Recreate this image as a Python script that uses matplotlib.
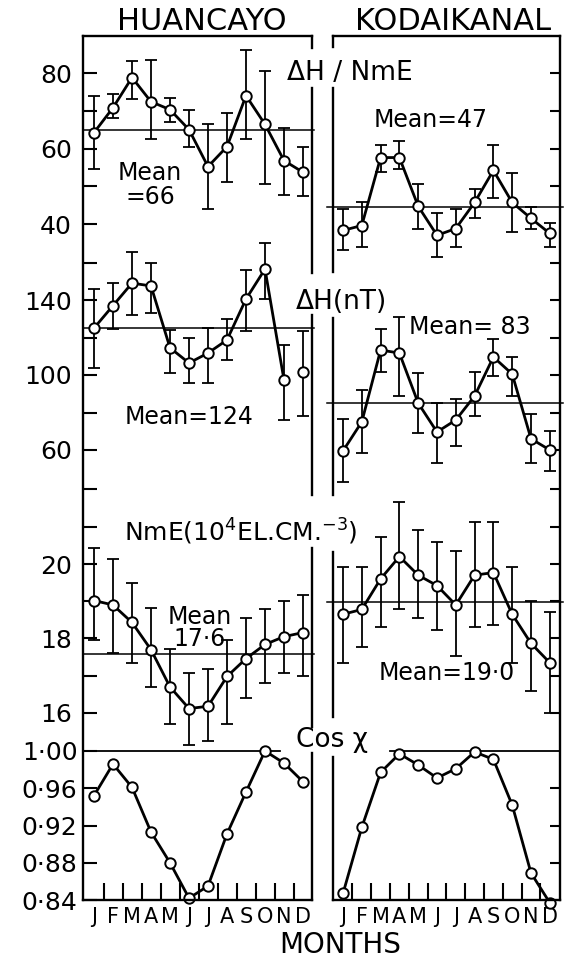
import numpy as np
import matplotlib
matplotlib.use('Agg')
import matplotlib.pyplot as plt
from matplotlib.lines import Line2D

# Месяцы
months = ['J', 'F', 'M', 'A', 'M', 'J', 'J', 'A', 'S', 'O', 'N', 'D']

# ΔH/NmE
huan_ratio = [64.2, 70.8, 78.8, 72.4, 70.3, 65.0, 55.2, 60.5, 74.0, 66.4, 56.8, 53.7]
huan_ratio_hi = [74.0, 74.5, 83.3, 83.5, 73.5, 70.3, 66.6, 69.5, 86.0, 80.6, 65.3, 60.3]
huan_ratio_lo = [54.7, 68.0, 73.0, 62.4, 67.0, 60.3, 43.9, 51.0, 62.6, 50.7, 47.8, 47.5]
kod_ratio = [38.3, 39.6, 57.6, 57.6, 44.7, 37.0, 38.8, 45.7, 54.2, 45.7, 41.5, 37.5]
kod_ratio_hi = [44.1, 45.7, 60.8, 62.0, 50.7, 42.8, 43.9, 49.4, 60.8, 53.4, 44.4, 40.2]
kod_ratio_lo = [33.0, 33.8, 53.9, 54.7, 38.8, 31.2, 33.8, 41.7, 47.0, 37.8, 38.8, 34.0]

# ΔH (nT)
huan_dh = [125, 137, 149, 147.5, 114.5, 106.4, 111.7, 118.7, 140.5, 156.5, 97.3, 101.4]
huan_dh_hi = [146, 149, 165.6, 160, 124, 120, 125, 130, 156, 170.4, 116, 123.5]
huan_dh_lo = [104, 124.5, 132, 133, 101, 96, 96, 108, 123.5, 140.5, 76, 78]
kod_dh = [59.5, 75, 113.3, 111.7, 85, 69.6, 76, 88.8, 109.6, 100.5, 66, 60]
kod_dh_hi = [76.5, 92, 124.5, 131, 101, 85, 87, 101.6, 119, 109.6, 79, 70]
kod_dh_lo = [43, 58.4, 101.6, 89, 69, 53, 62, 78, 99.5, 89, 53, 49]

# NmE (10^4 el/cm^3)
huan_nme = [19.02, 18.9, 18.43, 17.7, 16.7, 16.12, 16.18, 16.98, 17.46, 17.84, 18.05, 18.16]
huan_nme_hi = [20.44, 20.14, 19.5, 18.83, 17.73, 17.08, 17.17, 17.97, 18.56, 18.78, 19.0, 19.16]
huan_nme_lo = [17.97, 17.62, 17.35, 16.7, 15.7, 15.14, 15.25, 15.7, 16.4, 16.8, 17.08, 16.98]
kod_nme = [18.65, 18.78, 19.6, 20.2, 19.7, 19.42, 18.9, 19.7, 19.77, 18.65, 17.87, 17.35]
kod_nme_hi = [19.93, 19.93, 20.73, 21.67, 20.9, 20.6, 20.35, 21.14, 21.14, 19.92, 19.0, 18.72]
kod_nme_lo = [17.35, 17.78, 18.3, 18.8, 18.56, 18.24, 17.54, 18.3, 18.35, 17.35, 16.6, 16.0]

# Cos χ
huan_cos = [0.952, 0.986, 0.961, 0.913, 0.880, 0.842, 0.855, 0.911, 0.956, 1.000, 0.987, 0.967]
kod_cos = [0.847, 0.918, 0.977, 0.997, 0.985, 0.971, 0.981, 0.999, 0.991, 0.942, 0.869, 0.837]

# Средние (положение линий)
huan_means = [65.0, 125.1, 17.58]
kod_means = [44.6, 85.1, 18.98]

W, H = 569, 960
fig = plt.figure(figsize=(W / 100, H / 100), dpi=100)
fig.patch.set_facecolor('white')

x = np.arange(12)


def fx(px):
    return px / W


def fy(py):
    return 1 - py / H


def make_ax(x0, x1, ytop, ybot, ref, xlim):
    (va, ya), (vb, yb) = ref
    k = (va - vb) / (yb - ya)
    ax = fig.add_axes([fx(x0), fy(ybot), fx(x1 - x0), (ybot - ytop) / H])
    ax.set_ylim(va + (ya - ybot) * k, va + (ya - ytop) * k)
    ax.set_xlim(*xlim)
    ax.patch.set_visible(False)
    for s in ax.spines.values():
        s.set_visible(False)
    ax.tick_params(axis='x', which='both', bottom=False, labelbottom=False)
    return ax


def style_left(ax, major, labels, minor, pad=8):
    ax.yaxis.tick_left()
    ax.set_yticks(major, labels=labels)
    ax.set_yticks(minor, minor=True)
    ax.tick_params(axis='y', which='both', direction='in', length=10, width=1.5,
                   labelsize=18, pad=pad)


def style_right(ax, ticks):
    ax.yaxis.tick_right()
    ax.set_yticks(ticks)
    ax.tick_params(axis='y', which='both', direction='in', length=7, width=1.5,
                   labelright=False)


def draw_series(ax, y, lo, hi, connect=12):
    y = np.array(y)
    err = [y - np.array(lo), np.array(hi) - y]
    ax.errorbar(x, y, yerr=err, fmt='none', ecolor='black', elinewidth=1.3,
                capsize=4, capthick=1.3, clip_on=False)
    ax.plot(x[:connect], y[:connect], '-', color='black', lw=2.0, clip_on=False, zorder=3)
    ax.plot(x, y, 'o', ms=7.5, mfc='white', mec='black', mew=1.4, clip_on=False, zorder=4)


LX = (83, 312)
RX = (333, 560)
lxlim = ((83 - 94) / 19, (312 - 94) / 19)
rxlim = ((333 - 343) / 18.8, (560 - 343) / 18.8)

spans = [(36, 250), (250, 490), (488, 745), (735, 900)]
refs = [((80, 73), (40, 224)),
        ((140, 300), (60, 450)),
        ((20, 564), (16, 713)),
        ((1.00, 751), (0.84, 900))]

left_data = [(huan_ratio, huan_ratio_lo, huan_ratio_hi),
             (huan_dh, huan_dh_lo, huan_dh_hi),
             (huan_nme, huan_nme_lo, huan_nme_hi)]
right_data = [(kod_ratio, kod_ratio_lo, kod_ratio_hi),
              (kod_dh, kod_dh_lo, kod_dh_hi),
              (kod_nme, kod_nme_lo, kod_nme_hi)]

left_ticks = [([40, 60, 80], [50, 70]),
              ([60, 100, 140], [80, 120, 160]),
              ([16, 18, 20], [17, 19, 21, 22])]
right_ticks = [[50, 60, 70, 80], [60, 80, 100, 120, 140, 160], [16, 17, 18, 19, 20, 21, 22]]

for i in range(3):
    axl = make_ax(*LX, *spans[i], refs[i], lxlim)
    style_left(axl, left_ticks[i][0], [str(v) for v in left_ticks[i][0]], left_ticks[i][1])
    axl.axhline(huan_means[i], xmin=0, xmax=1.01, color='black', lw=1.1, clip_on=False)
    draw_series(axl, *left_data[i], connect=11 if i == 1 else 12)

    axr = make_ax(*RX, *spans[i], refs[i], rxlim)
    style_right(axr, right_ticks[i])
    axr.axhline(kod_means[i], xmin=-0.026, xmax=1.013, color='black', lw=1.1, clip_on=False)
    draw_series(axr, *right_data[i])

# Cos χ
cos_major = [0.84, 0.88, 0.92, 0.96, 1.00]
for side in ('L', 'R'):
    if side == 'L':
        ax = make_ax(*LX, *spans[3], refs[3], lxlim)
        style_left(ax, cos_major, [f'{v:.2f}'.replace('.', '·') for v in cos_major], [], pad=4)
        ax.axhline(1.0, xmin=0, xmax=0.86, color='black', lw=1.3)
        yv = huan_cos
    else:
        ax = make_ax(*RX, *spans[3], refs[3], rxlim)
        style_right(ax, [0.88, 0.92, 0.96])
        ax.axhline(1.0, xmin=0.25, xmax=1, color='black', lw=1.3)
        yv = kod_cos
    ax.plot(x, yv, '-', color='black', lw=2.0, clip_on=False, zorder=3)
    ax.plot(x, yv, 'o', ms=7.5, mfc='white', mec='black', mew=1.4, clip_on=False, zorder=4)
    ax.tick_params(axis='x', which='both', bottom=True, labelbottom=True)
    ax.set_xticks(x, labels=months)
    ax.set_xticks(np.arange(0.5, 11, 1), minor=True)
    ax.tick_params(axis='x', which='major', length=0, pad=5, labelsize=15)
    ax.tick_params(axis='x', which='minor', direction='in', length=12, width=1.5)


# Рамки
def seg(x0, y0, x1, y1, lw=1.7):
    fig.add_artist(Line2D([fx(x0), fx(x1)], [fy(y0), fy(y1)], color='black', lw=lw,
                          transform=fig.transFigure, solid_capstyle='projecting'))


seg(83, 36, 312, 36)
seg(83, 36, 83, 900)
seg(83, 900, 312, 900)
for a, b in [(36, 48), (88, 273), (315, 495), (548, 727), (753, 900)]:
    seg(312, a, 312, b)

seg(333, 36, 560, 36)
seg(560, 36, 560, 900)
seg(333, 900, 560, 900)
for a, b in [(36, 47), (88, 272), (318, 495), (552, 717), (757, 900)]:
    seg(333, a, 333, b)


# Подписи
def label(px, py, s, size, **kw):
    fig.text(fx(px), fy(py), s, ha='center', va='center', fontsize=size, **kw)


label(202, 21, 'HUANCAYO', 22)
label(453, 21, 'KODAIKANAL', 22)
label(350, 73, 'ΔH / NmE', 19)
label(431, 120, 'Mean=47', 17)
label(150, 185, 'Mean\n=66', 17, linespacing=1.0)
label(341, 302, 'ΔH(nT)', 19)
label(470, 327, 'Mean= 83', 17)
label(189, 417, 'Mean=124', 17)
label(241, 532, r'NmE(10$^{4}$EL.CM.$^{-3}$)', 18)
label(200, 628, 'Mean\n17·6', 17, linespacing=0.85)
label(447, 673, 'Mean=19·0', 17)
label(332, 740, 'Cos χ', 19)
label(340, 945, 'MONTHS', 20)

plt.savefig('out.png', dpi=100, facecolor='white')
